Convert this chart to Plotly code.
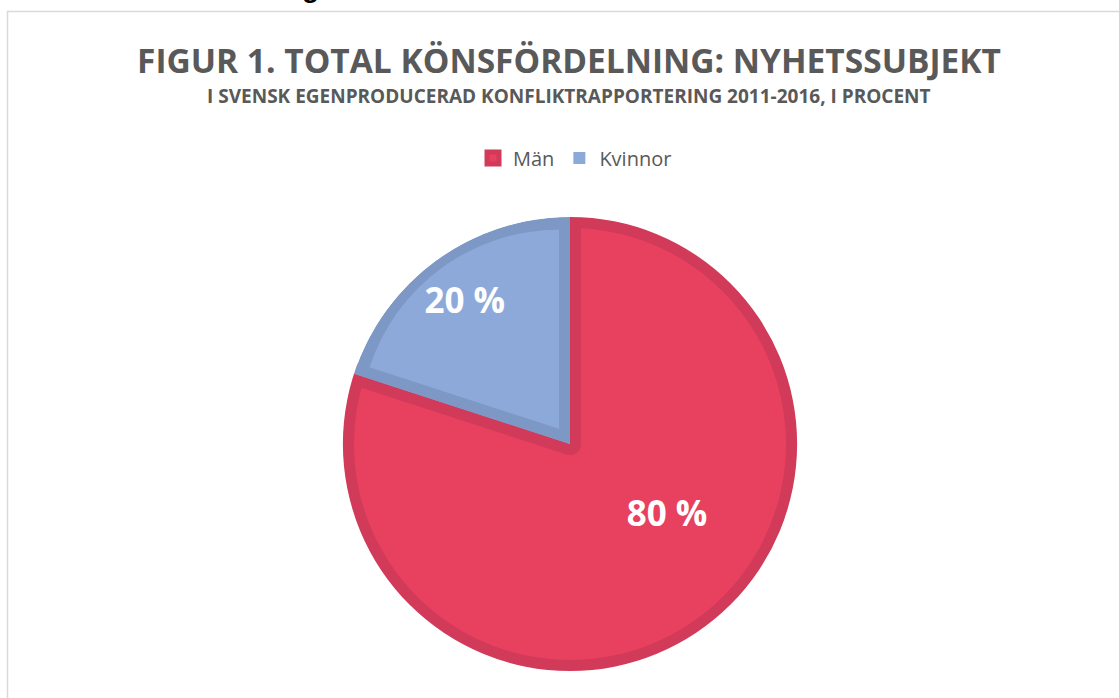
import math
import plotly.graph_objects as go

# ---- data ----
labels = ["Män", "Kvinnor"]
values = [80, 20]
label_text = [f"{v} %" for v in values]
title_text = "FIGUR 1. TOTAL KÖNSFÖRDELNING: NYHETSSUBJEKT"
subtitle_text = "I SVENSK EGENPRODUCERAD KONFLIKTRAPPORTERING 2011-2016, I PROCENT"

# ---- style ----
W, H = 1119, 698
LIGHT = ["#E8405F", "#8DA9DA"]
DARK = ["#D13A59", "#7E98C6"]
CLEAR = "rgba(0,0,0,0)"
GREY = "#595959"
FONT = "Open Sans"

CX, CY, R = 570, 444, 227       # pie centre / radius in pixels
BORDER = 11                      # inner border width in pixels


def dom(cx, cy, half):
    return dict(x=[max(0, (cx - half) / W), min(1, (cx + half) / W)],
                y=[max(0, 1 - (cy + half) / H), min(1, 1 - (cy - half) / H)])


common = dict(labels=labels, values=values, sort=False, direction="clockwise",
              rotation=0, hoverinfo="skip")
label_font = dict(color="white", size=35, family=FONT, weight="bold")

fig = go.Figure()

# layer 1: slices with Män inner border (stroke); legend carrier
fig.add_trace(go.Pie(
    **common, domain=dom(CX, CY, R), showlegend=True,
    marker=dict(colors=LIGHT, line=dict(color=DARK, width=[2 * BORDER, 0])),
    textinfo="none",
))

# layer 2: Kvinnor dark (border colour) full slice
fig.add_trace(go.Pie(
    **common, domain=dom(CX, CY, R), showlegend=False,
    marker=dict(colors=[CLEAR, DARK[1]], line=dict(width=0)),
    textinfo="none",
))

# layer 3: Kvinnor light fill, inset (pulled & smaller)
half_angle = math.radians(360 * values[1] / sum(values) / 2)
d = BORDER / math.sin(half_angle)
r_in = R - BORDER - d * 0.9
pull = d / r_in
fig.add_trace(go.Pie(
    **common, domain=dom(CX, CY, r_in * (1 + pull)), showlegend=False,
    pull=[0, pull],
    marker=dict(colors=[CLEAR, LIGHT[1]], line=dict(width=0)),
    textinfo="none",
))

# layer 4: white ring to hide outer half of stroke
RING = 20
fig.add_trace(go.Pie(
    labels=["ring"], values=[1], domain=dom(CX, CY, R + RING), hole=R / (R + RING),
    showlegend=False, hoverinfo="skip", textinfo="none", sort=False,
    marker=dict(colors=["white"], line=dict(width=0)),
))

# label layers (transparent slices carrying the percentage texts)
fig.add_trace(go.Pie(
    labels=labels, values=values, sort=False, direction="clockwise", rotation=-18.6,
    hoverinfo="skip", domain=dom(CX, CY, R), hole=0.048, showlegend=False,
    marker=dict(colors=[CLEAR, CLEAR], line=dict(width=0)),
    text=[label_text[0], ""], textinfo="text", textposition="inside",
    insidetextorientation="horizontal", insidetextfont=label_font,
))
fig.add_trace(go.Pie(
    **common, domain=dom(CX, CY, R), hole=0.578, showlegend=False,
    marker=dict(colors=[CLEAR, CLEAR], line=dict(width=0)),
    text=["", label_text[1]], textinfo="text", textposition="inside",
    insidetextorientation="horizontal", insidetextfont=label_font,
))

fig.update_layout(
    width=W, height=H,
    margin=dict(l=0, r=0, t=0, b=0),
    paper_bgcolor="white", plot_bgcolor="white",
    font=dict(family=FONT, color=GREY),
    legend=dict(orientation="h", x=575 / W, xanchor="center", y=1 - 158 / H, yanchor="middle",
                font=dict(size=20, color=GREY, family=FONT), itemclick=False, itemdoubleclick=False),
    annotations=[
        dict(text=title_text, x=569 / W, y=1 - 60 / H, xref="paper", yref="paper",
             xanchor="center", yanchor="middle", showarrow=False,
             font=dict(size=33.5, color=GREY, family=FONT, weight="bold")),
        dict(text=subtitle_text, x=569 / W, y=1 - 96 / H, xref="paper", yref="paper",
             xanchor="center", yanchor="middle", showarrow=False,
             font=dict(size=19, color=GREY, family=FONT, weight="bold")),
        dict(text="g", x=310 / W, y=1 - 5 / H, xref="paper", yref="paper",
             xanchor="center", yanchor="bottom", showarrow=False,
             font=dict(size=28, color="black", family="Liberation Sans", weight="bold")),
    ],
    shapes=[dict(type="rect", xref="paper", yref="paper",
                 x0=7.5 / W, y0=-0.05, x1=1.05, y1=1 - 11.5 / H,
                 line=dict(color="#D9D9D9", width=1.5), fillcolor="rgba(0,0,0,0)", layer="below")],
)

fig.write_html("out.html", config={"displayModeBar": False},
               post_script="document.body.style.margin='0';")
